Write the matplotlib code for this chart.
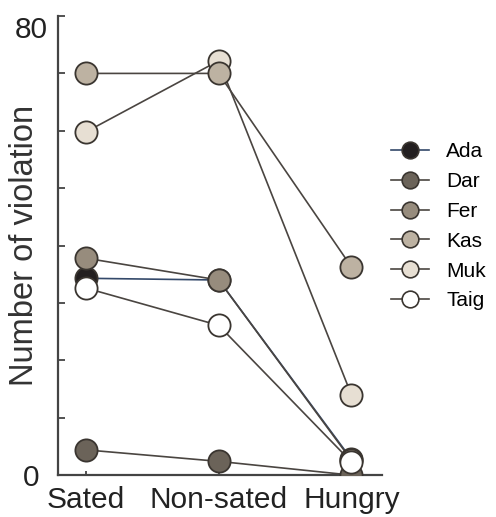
import matplotlib.pyplot as plt

plt.rcParams['font.family'] = ['Liberation Sans', 'DejaVu Sans']

#####################################################################
# data
conditions = ["Sated", "Non-sated", "Hungry"]
names = ["Ada", "Dar", "Fer", "Kas", "Muk", "Taig"]
ada = [34.3, 34.0, 2.8]
dar = [4.4, 2.4, 0.0]
fer = [37.8, 34.0, 2.6]
kas = [70.0, 70.0, 36.3]
muk = [59.8, 72.2, 14.0]
taig = [32.6, 26.1, 2.3]
series = [ada, dar, fer, kas, muk, taig]

face_colors = ["#231f20", "#6b6359", "#978c7d", "#bdb2a2", "#e7dfd3", "#ffffff"]
line_colors = ["#34496a", "#4a4541", "#4a4541", "#4a4541", "#4a4541", "#4a4541"]
marker_z = [3, 3, 3, 4, 3, 5]

######################################################################
fig = plt.figure(figsize=(4.96, 5.17), dpi=100)
ax = fig.add_axes([0.117, 0.081, 0.653, 0.888])

x = list(range(len(conditions)))
for vals, name, fc, lc, z in zip(series, names, face_colors, line_colors, marker_z):
    ax.plot(x, vals, color=lc, lw=1.2, zorder=2)
    ax.plot(x, vals, ls="none", marker="o", ms=16, mfc=fc, mec="#3a3530",
            mew=1.3, zorder=z)

# legend handles (smaller markers)
handles = []
for name, fc, lc in zip(names, face_colors, line_colors):
    h, = ax.plot([], [], color=lc, lw=1.2, marker="o", ms=12, mfc=fc,
                 mec="#3a3530", mew=1.2, label=name)
    handles.append(h)
fig.legend(handles=handles, loc="upper left", bbox_to_anchor=(0.788, 0.725),
           frameon=False, fontsize=15, handlelength=1.85, handletextpad=0.8,
           labelspacing=0.52, borderpad=0, borderaxespad=0)

ax.set_xlim(-0.21, 2.23)
ax.set_ylim(0, 80)
ax.set_xticks(x)
ax.set_xticklabels(conditions, fontsize=21.5)
ax.set_yticks(range(0, 81, 10))
ax.set_yticklabels(["0", "", "", "", "", "", "", "", "80"], fontsize=21.5,
                   ha="center")
ax.get_yticklabels()[-1].set_va("top")
ax.tick_params(direction="in", length=5, width=1.3, color="#444444")
ax.tick_params(axis="y", pad=19.5)
ax.tick_params(axis="x", length=3, pad=8)
ax.set_ylabel("Number of violation", fontsize=23.5, color="#333333")
ax.yaxis.set_label_coords(-0.056, 0.5)

for side in ["top", "right"]:
    ax.spines[side].set_visible(False)
for side in ["left", "bottom"]:
    ax.spines[side].set_linewidth(1.6)
    ax.spines[side].set_color("#444444")
for lab in ax.get_xticklabels() + ax.get_yticklabels():
    lab.set_color("#222222")

fig.savefig("out.png", dpi=100)
